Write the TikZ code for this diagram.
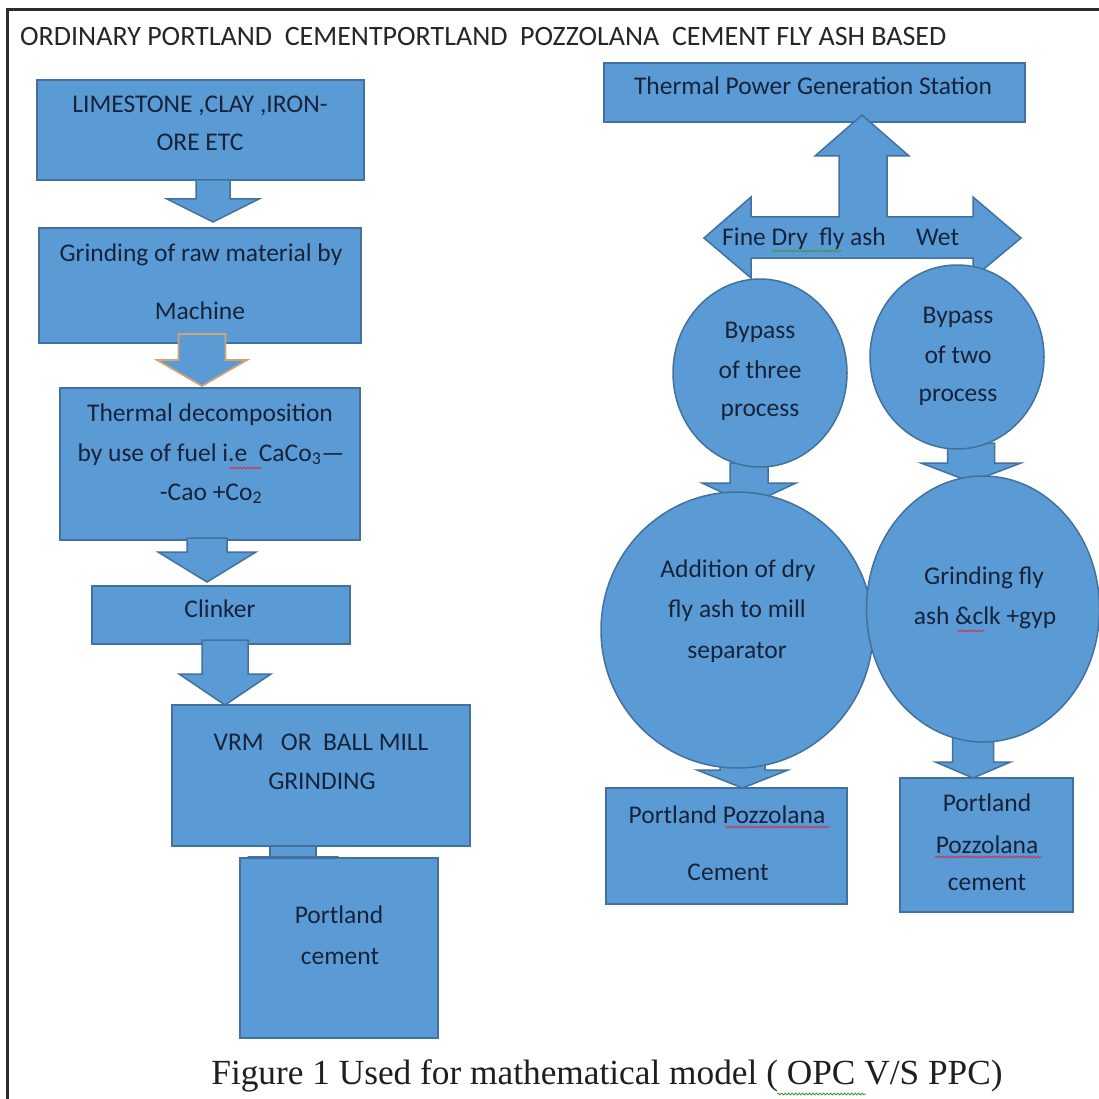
\documentclass[tikz,border=0pt]{standalone}
\usepackage{fontspec}
\setmainfont{Carlito}
\newfontfamily\capfont{Liberation Serif}
\usetikzlibrary{shapes.geometric,decorations.pathmorphing}
\definecolor{boxblue}{HTML}{5B9BD5}
\definecolor{boxline}{HTML}{41719C}
\definecolor{txtc}{HTML}{16233A}
\definecolor{frm}{HTML}{2B2B2B}
\definecolor{tanline}{HTML}{D4A373}
\definecolor{sqred}{HTML}{D03050}
\definecolor{sqgreen}{HTML}{3A9A3A}
\newcommand\dnarr[7]{%
  \filldraw[#7] (#1-#5,#2) -- (#1+#5,#2) -- (#1+#5,#3) -- (#1+#6,#3) -- (#1,#4)
    -- (#1-#6,#3) -- (#1-#5,#3) -- cycle;}
\tikzset{
  box/.style={draw=boxline, fill=boxblue, line width=1.5pt, inner sep=0pt},
  oval/.style={ellipse, draw=boxline, fill=boxblue, line width=1.5pt, inner sep=0pt},
  blockarr/.style={draw=boxline, fill=boxblue, line width=1.5pt, line join=miter},
  tanarr/.style={draw=tanline, fill=boxblue, line width=1.8pt, line join=miter},
  txt/.style={text=txtc, font=\fontsize{25.5}{30}\selectfont, anchor=base, inner sep=0pt},
  squig/.style={decorate, decoration={snake, amplitude=0.9pt, segment length=3.5pt}, line width=0.8pt},
}
\begin{document}
\begin{tikzpicture}[x=1pt, y=-1pt]
\useasboundingbox (0,0) rectangle (1099,1099);
\fill[white] (0,0) rectangle (1099,1099);
% frame
\draw[frm, line width=3pt] (7,1099) -- (7,10) -- (1099,10);
% header
\node[txt, anchor=base west, text=black!85, font=\fontsize{28}{32}\selectfont] (hdr) at (20,46)
  {ORDINARY PORTLAND\ \ CEMENTPORTLAND\ \ POZZOLANA\ \ CEMENT FLY ASH BASED};

% ---------- left column boxes ----------
\node[box, minimum width=327pt, minimum height=100pt] (b1) at (200.5,130) {};
\node[box, minimum width=322pt, minimum height=115pt] (b2) at (200,285.5) {};
\node[box, minimum width=300pt, minimum height=152pt] (b3) at (210,464) {};
\node[box, minimum width=258pt, minimum height=58pt] (b4) at (221,615) {};
\node[box, minimum width=298pt, minimum height=141pt] (b5) at (321,775.5) {};
\node[box, minimum width=198pt, minimum height=180pt] (b6) at (339,948) {};

% left arrows
\dnarr{213}{180}{199}{222}{17}{46}{blockarr}
\dnarr{202}{334}{360}{386}{23.5}{45}{tanarr}
\dnarr{207}{538}{552}{582}{20}{49}{blockarr}
\dnarr{225}{640}{674}{705}{23}{46}{blockarr}
\dnarr{293}{846}{857}{857}{23}{45.5}{blockarr}

% left texts
\node[txt] (t1a) at (200,113) {LIMESTONE ,CLAY ,IRON-};
\node[txt] (t1b) at (200,151) {ORE ETC};
\node[txt] (t2a) at (201,261) {Grinding of raw material by};
\node[txt] (t2b) at (200,319) {Machine};
\node[txt] (t3a) at (210,421) {Thermal decomposition};
\node[txt] (t3b) at (211,461) {by use of fuel i.e\ \ CaCo\textsubscript{3}—};
\node[txt] (t3c) at (211,500) {-Cao +Co\textsubscript{2}};
\node[txt] (t4) at (220,617) {Clinker};
\node[txt] (t5a) at (321,750) {VRM\ \ \ OR\ \ BALL MILL};
\node[txt] (t5b) at (322,789) {GRINDING};
\node[txt] (t6a) at (339,923) {Portland};
\node[txt] (t6b) at (340,964) {cement};

% ---------- right column ----------
\node[box, minimum width=421pt, minimum height=59pt] (tp) at (814.5,92.5) {};
\node[txt] (tpt) at (813,95) {Thermal Power Generation Station};

% T-shaped block arrow (up / left / right)
\filldraw[blockarr] (704,238) -- (751,197) -- (751,217) -- (839,217) -- (839,156) -- (815,156)
  -- (862,115) -- (909,156) -- (887,156) -- (887,217) -- (973,217) -- (973,197) -- (1021,238)
  -- (973,278) -- (973,258) -- (751,258) -- (751,278) -- cycle;
\node[txt, anchor=base west] (fdry) at (722,246) {Fine Dry\ \ fly ash};
\node[txt, anchor=base west] (fwet) at (916,246) {Wet};

% arrows under small circles
\dnarr{749}{463}{483}{505}{19}{47}{blockarr}
\dnarr{971}{443}{463}{482}{23.5}{50}{blockarr}
% arrows under big circles
\dnarr{742.5}{745}{770}{788}{22.5}{45.5}{blockarr}
\dnarr{973}{735}{762}{778}{20.5}{37.5}{blockarr}

% circles
\node[oval, minimum width=174pt, minimum height=188pt] (c1) at (760,373) {};
\node[oval, minimum width=174pt, minimum height=184pt] (c2) at (957,357) {};
\node[oval, minimum width=272pt, minimum height=276pt] (c3) at (737,630) {};
\node[oval, minimum width=233pt, minimum height=266pt] (c4) at (983,609) {};

\node[txt] (c1a) at (760,338) {Bypass};
\node[txt] (c1b) at (760,378) {of three};
\node[txt] (c1c) at (760,416) {process};
\node[txt] (c2a) at (958,323) {Bypass};
\node[txt] (c2b) at (958,363) {of two};
\node[txt] (c2c) at (958,401) {process};
\node[txt] (c3a) at (738,577) {Addition of dry};
\node[txt] (c3b) at (737,617) {fly ash to mill};
\node[txt] (c3c) at (737,658) {separator};
\node[txt] (c4a) at (984,584) {Grinding fly};
\node[txt] (c4b) at (985,624) {ash \&clk +gyp};

% result boxes
\node[box, minimum width=241pt, minimum height=116pt] (p1) at (726.5,846) {};
\node[box, minimum width=173pt, minimum height=134pt] (p2) at (986.5,845) {};
\node[txt] (p1a) at (727,823) {Portland Pozzolana};
\node[txt] (p1b) at (728,880) {Cement};
\node[txt] (p2a) at (987,811) {Portland};
\node[txt] (p2b) at (987,853) {Pozzolana};
\node[txt] (p2c) at (987,890) {cement};

% caption
\node[txt, text=black!88, font=\capfont\fontsize{35.3}{40}\selectfont] (cap) at (607,1084)
  {Figure 1 Used for mathematical model ( OPC V/S PPC)};

% spell-check squiggles
\draw[squig, sqgreen] (772,251) -- (842,251);
\draw[squig, sqred] (229,468) -- (262,468);
\draw[squig, sqred] (725,827) -- (830,827);
\draw[squig, sqred] (935,857) -- (1042,857);
\draw[squig, sqred] (957,631) -- (985,631);
\draw[squig, sqgreen] (777,1094) -- (866,1094);
\end{tikzpicture}
\end{document}
